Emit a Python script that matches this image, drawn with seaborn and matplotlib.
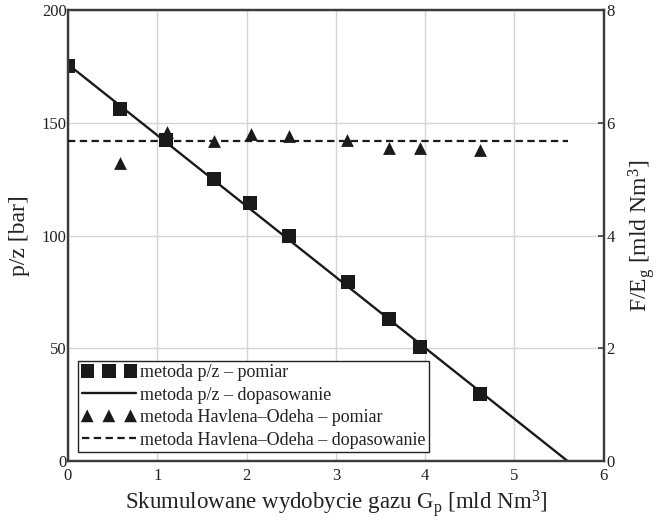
import matplotlib
matplotlib.use("Agg")
import matplotlib.pyplot as plt
import seaborn as sns
import pandas as pd

# Cumulative gas production [mld Nm3] and p/z [bar] measurements
gp_pz = [0.0, 0.58, 1.10, 1.63, 2.04, 2.48, 3.14, 3.59, 3.94, 4.61]
pz = [175.3, 156.1, 142.4, 125.2, 114.3, 99.8, 79.2, 62.8, 50.6, 29.6]

# Straight-line fit of p/z (end points)
fit_pz_x = [0.0, 5.59]
fit_pz_y = [176.0, 0.0]

# Havlena–Odeh measurements F/Eg [mld Nm3]
gp_ho = [0.58, 1.11, 1.63, 2.05, 2.48, 3.13, 3.60, 3.94, 4.61]
fe = [5.28, 5.84, 5.68, 5.81, 5.76, 5.70, 5.55, 5.55, 5.52]

# Havlena–Odeh fitted value (constant)
fit_ho_x = [0.0, 5.6]
fit_ho_y = [5.67, 5.67]

x_ticks = [0, 1, 2, 3, 4, 5, 6]
pz_ticks = [0, 50, 100, 150, 200]
fe_ticks = [0, 2, 4, 6, 8]

lab_sq = "metoda p/z – pomiar"
lab_fit = "metoda p/z – dopasowanie"
lab_tr = "metoda Havlena–Odeha – pomiar"
lab_dash = "metoda Havlena–Odeha – dopasowanie"

sns.set_theme(style="white")
plt.rcParams["font.family"] = ["Liberation Serif", "DejaVu Serif"]
plt.rcParams["mathtext.fontset"] = "custom"
plt.rcParams["mathtext.rm"] = "Liberation Serif"
plt.rcParams["mathtext.it"] = "Liberation Serif:italic"

ink = "#1a1a1a"
spine_c = "#3c3c3c"
grid_c = "#d4d4d4"
txt_c = "#222222"

fig = plt.figure(figsize=(6.57, 5.21), dpi=100)
ax = fig.add_axes([0.1035, 0.1157, 0.8155, 0.8645])
ax2 = ax.twinx()

df_pz = pd.DataFrame({"x": gp_pz, "y": pz})
df_fit = pd.DataFrame({"x": fit_pz_x, "y": fit_pz_y})
df_ho = pd.DataFrame({"x": gp_ho, "y": fe})
df_hofit = pd.DataFrame({"x": fit_ho_x, "y": fit_ho_y})

# p/z method: fitted line and measured points
sns.lineplot(data=df_fit, x="x", y="y", ax=ax, color=ink, lw=1.7,
             zorder=3, legend=False)
h_fit = ax.lines[-1]
sns.scatterplot(data=df_pz, x="x", y="y", ax=ax, marker="s", s=92,
                color=ink, linewidth=0, zorder=4, legend=False)
h_sq = ax.collections[-1]

# Havlena–Odeh method on the secondary axis
sns.lineplot(data=df_hofit, x="x", y="y", ax=ax2, color=ink, lw=1.6,
             zorder=3, legend=False)
h_dash = ax2.lines[-1]
h_dash.set_dashes([3.3, 2.0])
sns.scatterplot(data=df_ho, x="x", y="y", ax=ax2, marker="^", s=85,
                color=ink, linewidth=0, zorder=4, legend=False)
h_tr = ax2.collections[-1]

ax.set_xlim(0, 6)
ax.set_ylim(0, 200)
ax2.set_ylim(0, 8)
ax.set_xticks(x_ticks)
ax.set_yticks(pz_ticks)
ax2.set_yticks(fe_ticks)

ax.grid(True, color=grid_c, lw=1.0)
ax.set_axisbelow(True)
ax2.grid(False)

for a in (ax, ax2):
    for s in a.spines.values():
        s.set_color(spine_c)
        s.set_linewidth(1.6)

ax.tick_params(axis="both", length=0, labelsize=12, colors=txt_c)
ax.tick_params(axis="x", pad=5)
ax.tick_params(axis="y", pad=1)
ax2.tick_params(axis="y", direction="in", length=4, width=1.2,
                color=spine_c, labelsize=12, labelcolor=txt_c, pad=2)

ax.set_xlabel(r"Skumulowane wydobycie gazu G$_\mathrm{p}$ [mld Nm$^3$]",
              fontsize=16.5, color=txt_c, labelpad=3)
ax.set_ylabel("p/z [bar]", fontsize=17, color=txt_c, labelpad=8)
ax2.set_ylabel(r"F/E$_\mathrm{g}$ [mld Nm$^3$]", fontsize=17,
               color=txt_c, labelpad=8)

leg = ax.legend([h_sq, h_fit, h_tr, h_dash], [lab_sq, lab_fit, lab_tr, lab_dash],
                loc="lower left", bbox_to_anchor=(0.019, 0.019),
                fontsize=13, scatterpoints=3, scatteryoffsets=[0.5],
                handlelength=3.0, handletextpad=0.2, labelspacing=0.3,
                borderpad=0.2, borderaxespad=0, fancybox=False,
                framealpha=1, edgecolor=txt_c, frameon=True)
leg.get_frame().set_linewidth(1.0)
leg.set_zorder(3.5)
for t in leg.get_texts():
    t.set_color(txt_c)

fig.savefig("out.png", dpi=100)
